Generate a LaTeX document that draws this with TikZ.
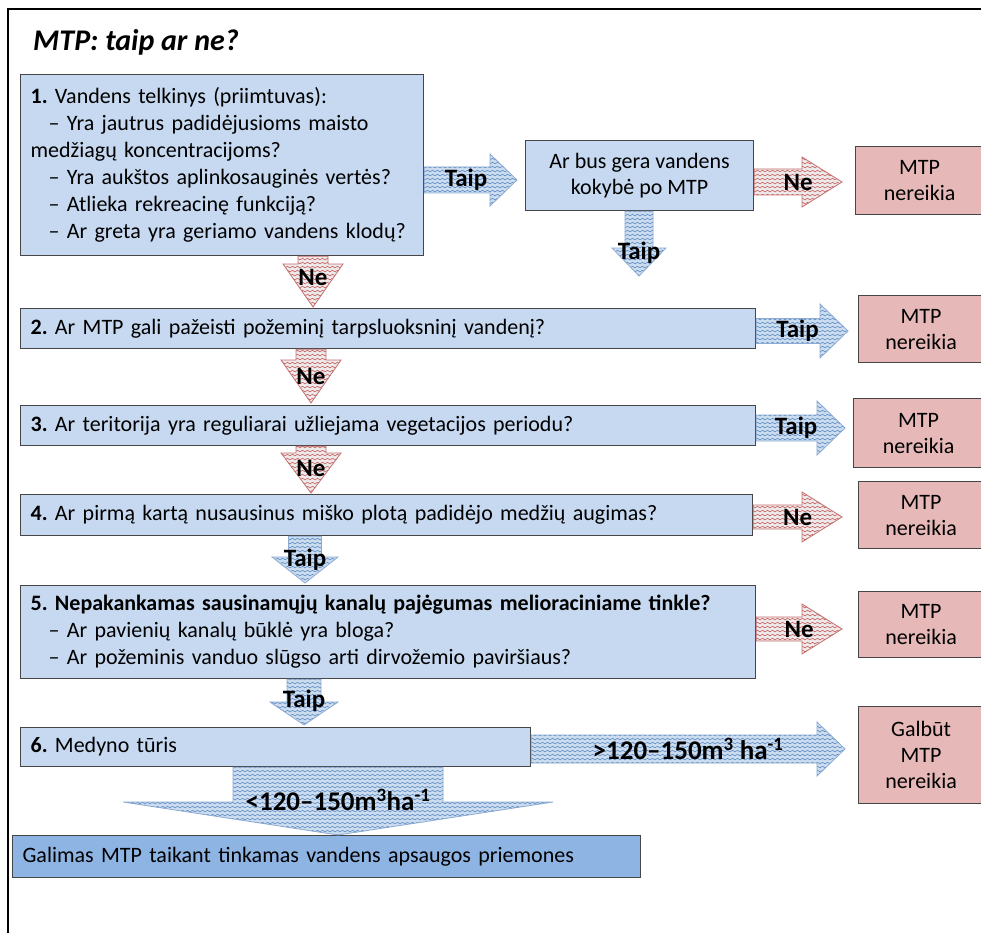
\documentclass[tikz,border=0pt]{standalone}
\usepackage{fontspec}
\setmainfont{Carlito}
\usetikzlibrary{calc,patterns,positioning}

\definecolor{qfill}{RGB}{198,217,241}
\definecolor{qdark}{RGB}{142,180,227}
\definecolor{nofill}{RGB}{230,185,184}
\definecolor{edgegray}{RGB}{70,70,70}
\definecolor{taipfill}{RGB}{205,221,240}
\definecolor{taipwave}{RGB}{79,129,189}
\definecolor{taipedge}{RGB}{140,170,210}
\definecolor{nefill}{RGB}{238,234,236}
\definecolor{newave}{RGB}{192,80,77}
\definecolor{needge}{RGB}{200,110,108}

\pgfdeclarepatternformonly{wavy}{\pgfpoint{-1pt}{-1pt}}{\pgfpoint{6pt}{5pt}}{\pgfpoint{5pt}{4pt}}{%
  \pgfsetlinewidth{0.5pt}
  \pgfpathmoveto{\pgfpoint{0pt}{1pt}}
  \pgfpathlineto{\pgfpoint{2.5pt}{2.8pt}}
  \pgfpathlineto{\pgfpoint{5pt}{1pt}}
  \pgfusepath{stroke}
}

\tikzset{
  qbox/.style={draw=edgegray, line width=1.2pt, fill=qfill, anchor=north west,
    inner xsep=10pt, inner ysep=0pt, align=left, font=\fontsize{22}{27}\selectfont\frenchspacing},
  cbox/.style={draw=edgegray, line width=1.2pt, fill=qfill, anchor=north west,
    inner sep=0pt, align=center, font=\fontsize{22}{26}\selectfont},
  nobox/.style={cbox, fill=nofill},
  taiparrow/.style={draw=taipedge, line width=0.8pt, preaction={fill=taipfill},
    pattern=wavy, pattern color=taipwave},
  nearrow/.style={draw=needge, line width=0.8pt, preaction={fill=nefill},
    pattern=wavy, pattern color=newave},
  albl/.style={inner sep=0pt, font=\fontsize{25}{28}\selectfont\bfseries},
  blbl/.style={inner sep=0pt, font=\fontsize{27}{30}\selectfont\bfseries},
}

% [style]{tail}{tip}{shaft half width}{head half width}{head length}
\newcommand\blockarrow[6][]{%
  \coordinate (ba-c) at ($(#3)!#6!(#2)$);
  \draw[#1] ($(#2)!#4!90:(#3)$) -- ($(ba-c)!#4!90:(#3)$) -- ($(ba-c)!#5!90:(#3)$)
    -- (#3) -- ($(ba-c)!#5!-90:(#3)$) -- ($(ba-c)!#4!-90:(#3)$)
    -- ($(#2)!#4!-90:(#3)$) -- cycle;
}

\begin{document}
\begin{tikzpicture}[x=1pt,y=-1pt]
  \useasboundingbox (0,0) rectangle (981,933);
  \draw[line width=2pt] (8,933) -- (8,9) -- (981,9);

  \node[anchor=west, inner sep=0pt, font=\fontsize{30}{34}\selectfont\bfseries\itshape] (title) at (33,42) {MTP: taip ar ne?};

  % questions
  \node[qbox, text width=383pt, minimum height=181pt] (q1) at (20,74) {%
    \textbf{1.} Vandens telkinys (priimtuvas):\\
    \hspace*{18pt}– Yra jautrus padidėjusioms maisto\\
    medžiagų koncentracijoms?\\
    \hspace*{18pt}– Yra aukštos aplinkosauginės vertės?\\
    \hspace*{18pt}– Atlieka rekreacinę funkciją?\\
    \hspace*{18pt}– Ar greta yra geriamo vandens klodų?};
  \node[cbox, minimum width=228pt, minimum height=70pt] (qa) at (525,140) {Ar bus gera vandens\\kokybė po MTP};
  \node[qbox, text width=715pt, minimum height=40pt] (q2) at (20,308) {\textbf{2.} Ar MTP gali pažeisti požeminį tarpsluoksninį vandenį?};
  \node[qbox, text width=715pt, minimum height=40pt] (q3) at (20,405) {\textbf{3.} Ar teritorija yra reguliarai užliejama vegetacijos periodu?};
  \node[qbox, text width=712pt, minimum height=41pt] (q4) at (20,494) {\textbf{4.} Ar pirmą kartą nusausinus miško plotą padidėjo medžių augimas?};
  \node[qbox, text width=715pt, minimum height=93pt] (q5) at (20,585) {%
    \textbf{5. Nepakankamas sausinamųjų kanalų pajėgumas melioraciniame tinkle?}\\
    \hspace*{18pt}– Ar pavienių kanalų būklė yra bloga?\\
    \hspace*{18pt}– Ar požeminis vanduo slūgso arti dirvožemio paviršiaus?};
  \node[qbox, text width=490pt, minimum height=39pt] (q6) at (20,727) {\textbf{6.} Medyno tūris};
  \node[qbox, fill=qdark, text width=608pt, minimum height=42pt] (qf) at (12,835) {Galimas MTP taikant tinkamas vandens apsaugos priemones};

  % answers
  \node[nobox, minimum width=128pt, minimum height=68pt] (r1) at (855,146) {MTP\\nereikia};
  \node[nobox, minimum width=125pt, minimum height=67pt] (r2) at (858,295) {MTP\\nereikia};
  \node[nobox, minimum width=130pt, minimum height=69pt] (r3) at (853,398) {MTP\\nereikia};
  \node[nobox, minimum width=125pt, minimum height=67pt] (r4) at (858,481) {MTP\\nereikia};
  \node[nobox, minimum width=125pt, minimum height=66pt] (r5) at (858,591) {MTP\\nereikia};
  \node[nobox, minimum width=125pt, minimum height=97pt] (r6) at (858,706) {Galbūt\\MTP\\nereikia};

  % arrows
  \coordinate (t1s) at (q1.east |- 0,180);
  \coordinate (t1e) at (517,180);
  \blockarrow[taiparrow]{t1s}{t1e}{13pt}{26pt}{27pt}
  \node[albl] at ($(t1s)!0.45!(t1e)$) {Taip};

  \coordinate (n1s) at (qa.east |- 0,182);
  \coordinate (n1e) at (842,182);
  \blockarrow[nearrow]{n1s}{n1e}{13pt}{25pt}{40pt}
  \node[albl] at ($(n1s)!0.5!(n1e)$) {Ne};

  \coordinate (t2s) at (qa.south -| 639,0);
  \coordinate (t2e) at (639,276);
  \blockarrow[taiparrow]{t2s}{t2e}{14pt}{27pt}{28pt}
  \node[albl] at ($(t2s)!0.64!(t2e)$) {Taip};

  \coordinate (n2s) at (q1.south -| 313,0);
  \coordinate (n2e) at (313,307);
  \blockarrow[nearrow]{n2s}{n2e}{15pt}{30pt}{43pt}
  \node[albl] at ($(n2s)!0.42!(n2e)$) {Ne};

  \coordinate (t3s) at (q2.east |- 0,331);
  \coordinate (t3e) at (848,331);
  \blockarrow[taiparrow]{t3s}{t3e}{12.5pt}{27pt}{28pt}
  \node[albl] at ($(t3s)!0.45!(t3e)$) {Taip};

  \coordinate (n3s) at (q2.south -| 311,0);
  \coordinate (n3e) at (311,403);
  \blockarrow[nearrow]{n3s}{n3e}{15pt}{30pt}{43pt}
  \node[albl] at ($(n3s)!0.5!(n3e)$) {Ne};

  \coordinate (t4s) at (q3.east |- 0,428);
  \coordinate (t4e) at (845,428);
  \blockarrow[taiparrow]{t4s}{t4e}{13pt}{27pt}{28pt}
  \node[albl] at ($(t4s)!0.45!(t4e)$) {Taip};

  \coordinate (n4s) at (q3.south -| 311,0);
  \coordinate (n4e) at (311,493);
  \blockarrow[nearrow]{n4s}{n4e}{15pt}{30pt}{40pt}
  \node[albl] at ($(n4s)!0.48!(n4e)$) {Ne};

  \coordinate (n5s) at (q4.east |- 0,517);
  \coordinate (n5e) at (842,517);
  \blockarrow[nearrow]{n5s}{n5e}{12pt}{25pt}{40pt}
  \node[albl] at ($(n5s)!0.5!(n5e)$) {Ne};

  \coordinate (t5s) at (q4.south -| 305,0);
  \coordinate (t5e) at (305,583);
  \blockarrow[taiparrow]{t5s}{t5e}{16.5pt}{33pt}{26pt}
  \node[albl] at ($(t5s)!0.5!(t5e)$) {Taip};

  \coordinate (n6s) at (q5.east |- 0,629);
  \coordinate (n6e) at (842,629);
  \blockarrow[nearrow]{n6s}{n6e}{12pt}{25pt}{40pt}
  \node[albl] at ($(n6s)!0.5!(n6e)$) {Ne};

  \coordinate (t6s) at (q5.south -| 304,0);
  \coordinate (t6e) at (304,725);
  \blockarrow[taiparrow]{t6s}{t6e}{17pt}{34pt}{23pt}
  \node[albl] at ($(t6s)!0.47!(t6e)$) {Taip};

  \coordinate (v1s) at (q6.east |- 0,749);
  \coordinate (v1e) at (845,749);
  \blockarrow[taiparrow]{v1s}{v1e}{14pt}{27pt}{28pt}
  \node[blbl] at ($(v1s)!0.5!(v1e)$) {>120–150m\textsuperscript{3} ha\textsuperscript{-1}};

  \coordinate (v2s) at (q6.south -| 338,0);
  \coordinate (v2e) at (qf.north -| 338,0);
  \blockarrow[taiparrow]{v2s}{v2e}{105pt}{215pt}{33pt}
  \node[blbl] at (338,800) {<120–150m\textsuperscript{3}ha\textsuperscript{-1}};
\end{tikzpicture}
\end{document}
